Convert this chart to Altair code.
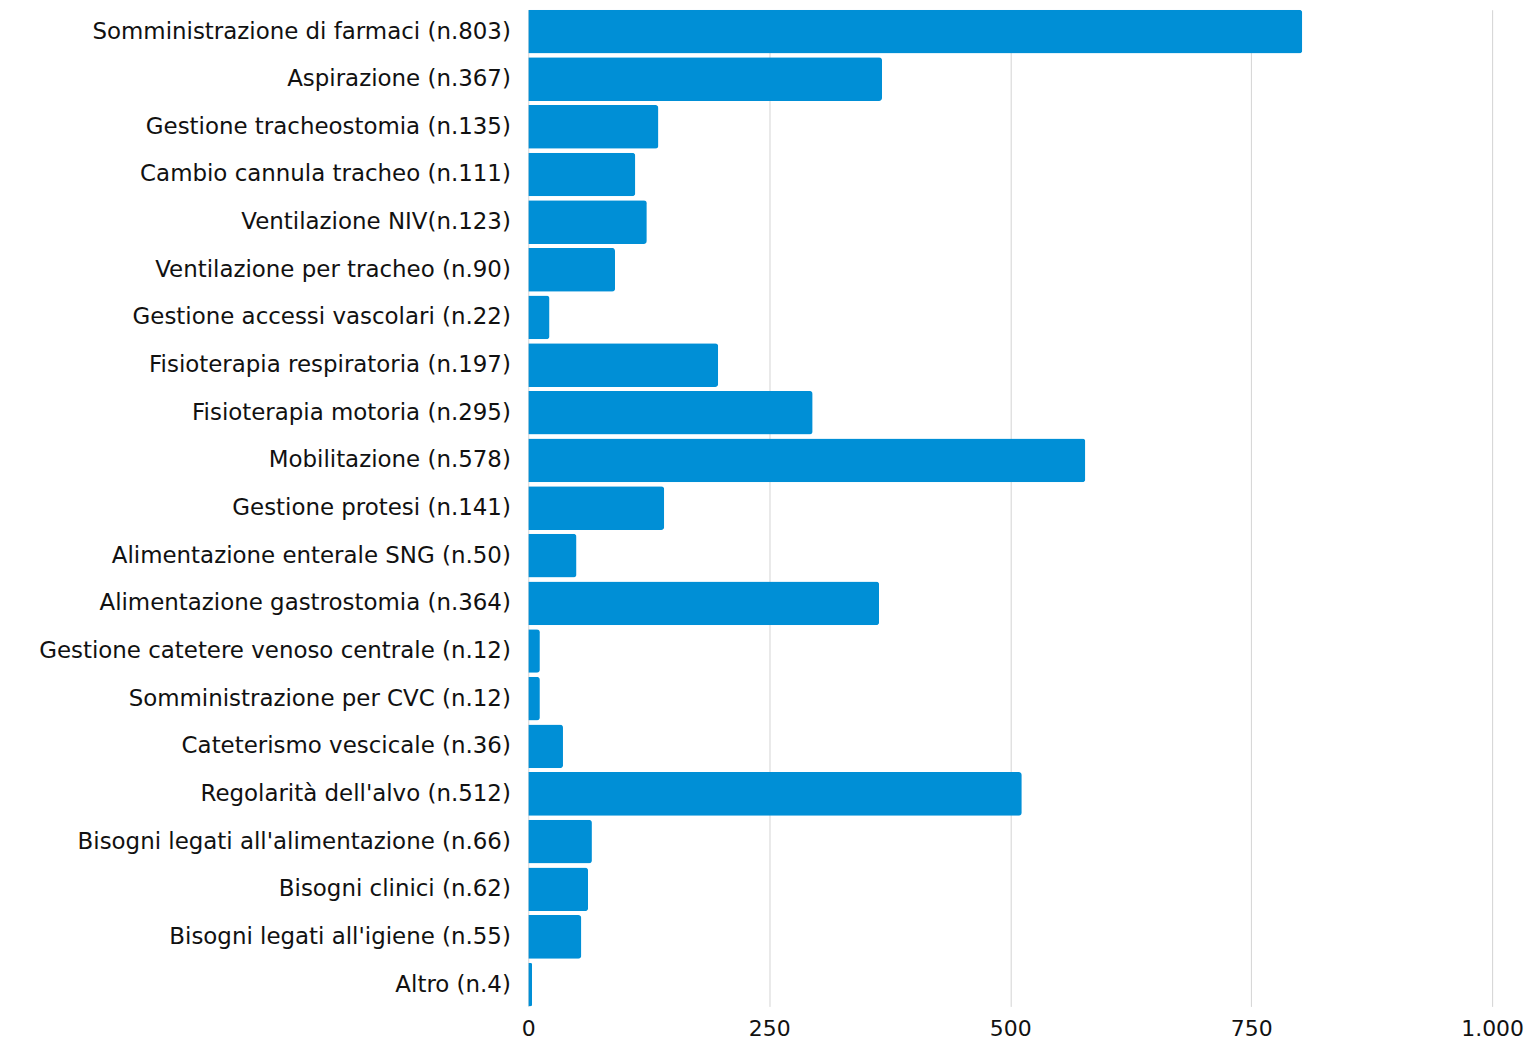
import altair as alt
import pandas as pd

categories = [
    "Somministrazione di farmaci (n.803)",
    "Aspirazione (n.367)",
    "Gestione tracheostomia (n.135)",
    "Cambio cannula tracheo (n.111)",
    "Ventilazione NIV(n.123)",
    "Ventilazione per tracheo (n.90)",
    "Gestione accessi vascolari (n.22)",
    "Fisioterapia respiratoria (n.197)",
    "Fisioterapia motoria (n.295)",
    "Mobilitazione (n.578)",
    "Gestione protesi (n.141)",
    "Alimentazione enterale SNG (n.50)",
    "Alimentazione gastrostomia (n.364)",
    "Gestione catetere venoso centrale (n.12)",
    "Somministrazione per CVC (n.12)",
    "Cateterismo vescicale (n.36)",
    "Regolarità dell'alvo (n.512)",
    "Bisogni legati all'alimentazione (n.66)",
    "Bisogni clinici (n.62)",
    "Bisogni legati all'igiene (n.55)",
    "Altro (n.4)",
]
values = [803, 367, 135, 111, 123, 90, 22, 197, 295, 578, 141, 50, 364, 12, 12, 36, 512, 66, 62, 55, 4]
x_ticks = [0, 250, 500, 750, 1000]

df = pd.DataFrame({"cat": categories, "val": values})

FONT = "DejaVu Sans"

chart = alt.Chart(df).mark_bar(color="#008fd6", cornerRadiusEnd=3).encode(
    y=alt.Y("cat:N", sort=categories, title=None,
            scale=alt.Scale(paddingInner=0.083, paddingOuter=0),
            axis=alt.Axis(labelFont=FONT, labelFontSize=23, labelFontWeight="normal",
                          labelColor="#111111", labelPadding=18, labelLimit=600,
                          ticks=False, domain=False)),
    x=alt.X("val:Q", title=None,
            scale=alt.Scale(domain=[0, 1000], nice=False),
            axis=alt.Axis(values=x_ticks, labelFont=FONT, labelFontSize=22,
                          labelFontWeight="normal", labelColor="#111111",
                          labelPadding=12, labelFlush=False, ticks=False, domain=False,
                          grid=True, gridColor="#d4d4d4", gridWidth=1,
                          labelExpr="replace(format(datum.value, ','), ',', '.')")),
).properties(
    width=967, height=1000,
    autosize=alt.AutoSizeParams(type="none"),
    padding={"left": 522, "top": 0, "right": 36, "bottom": 35},
).configure_view(stroke=None)

chart.save("out.html", embed_options={"renderer": "svg", "actions": False})
